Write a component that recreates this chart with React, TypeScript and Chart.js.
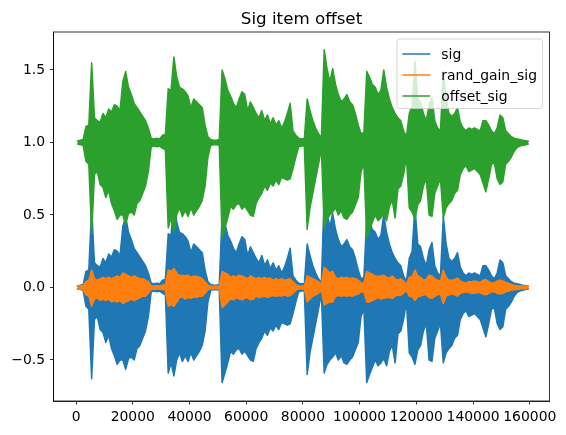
import React, { useEffect, useRef } from "react";
import { Chart, registerables } from "chart.js";

Chart.register(...registerables);

// Envelope of each signal, one max/min pair per block of samples
const binSize = 1000;

const sigHi = [
  0.01,0.015,0.02,0.11,0.12,0.55,0.17,0.15,0.14,0.2,
  0.17,0.23,0.21,0.26,0.25,0.22,0.42,0.49,0.38,0.33,
  0.27,0.24,0.21,0.18,0.15,0.1,0.03,0.025,0.03,0.025,
  0.05,0.055,0.37,0.36,0.59,0.45,0.38,0.37,0.35,0.32,
  0.24,0.3,0.28,0.26,0.24,0.12,0.04,0.02,0.015,0.015,
  0.02,0.5,0.44,0.36,0.32,0.27,0.24,0.3,0.35,0.33,
  0.22,0.28,0.24,0.2,0.17,0.22,0.15,0.19,0.13,0.17,
  0.12,0.15,0.1,0.14,0.2,0.27,0.08,0.05,0.03,0.025,
  0.025,0.3,0.22,0.15,0.1,0.06,0.03,0.64,0.51,0.42,
  0.51,0.4,0.33,0.28,0.3,0.33,0.28,0.26,0.2,0.12,
  0.06,0.07,0.49,0.45,0.4,0.38,0.33,0.36,0.5,0.38,
  0.3,0.24,0.2,0.17,0.15,0.08,0.04,0.2,0.25,0.56,
  0.3,0.28,0.2,0.15,0.26,0.31,0.15,0.1,0.08,0.49,
  0.3,0.2,0.18,0.2,0.24,0.14,0.1,0.08,0.1,0.09,
  0.1,0.09,0.08,0.15,0.15,0.12,0.08,0.06,0.1,0.19,
  0.17,0.08,0.06,0.04,0.03,0.025,0.02,0.015,0.012,0.008,
];
const sigLo = [
  -0.01,-0.015,-0.02,-0.13,-0.15,-0.63,-0.22,-0.2,-0.29,-0.31,
  -0.38,-0.33,-0.42,-0.47,-0.53,-0.5,-0.5,-0.565,-0.49,-0.48,
  -0.5,-0.42,-0.4,-0.35,-0.3,-0.2,-0.03,-0.025,-0.03,-0.025,
  -0.04,-0.05,-0.59,-0.52,-0.61,-0.5,-0.45,-0.51,-0.47,-0.51,
  -0.45,-0.5,-0.47,-0.44,-0.4,-0.3,-0.1,-0.02,-0.015,-0.015,
  -0.02,-0.656,-0.59,-0.52,-0.44,-0.46,-0.43,-0.42,-0.46,-0.44,
  -0.47,-0.5,-0.51,-0.42,-0.38,-0.35,-0.3,-0.33,-0.28,-0.3,
  -0.26,-0.29,-0.24,-0.25,-0.26,-0.25,-0.18,-0.1,-0.03,-0.025,
  -0.025,-0.6,-0.45,-0.35,-0.25,-0.15,-0.04,-0.59,-0.53,-0.5,
  -0.48,-0.45,-0.5,-0.47,-0.52,-0.53,-0.5,-0.48,-0.43,-0.38,
  -0.2,-0.15,-0.656,-0.6,-0.55,-0.5,-0.54,-0.52,-0.49,-0.54,
  -0.44,-0.4,-0.52,-0.32,-0.3,-0.22,-0.1,-0.45,-0.48,-0.53,
  -0.43,-0.4,-0.3,-0.25,-0.5,-0.51,-0.35,-0.3,-0.25,-0.52,
  -0.45,-0.42,-0.4,-0.35,-0.33,-0.22,-0.18,-0.16,-0.2,-0.19,
  -0.18,-0.2,-0.22,-0.28,-0.34,-0.25,-0.15,-0.14,-0.25,-0.29,
  -0.27,-0.15,-0.13,-0.1,-0.06,-0.035,-0.025,-0.02,-0.015,-0.01,
];
const randGainHi = [
  0.01,0.012,0.015,0.04,0.05,0.12,0.06,0.05,0.06,0.07,
  0.06,0.07,0.06,0.07,0.08,0.07,0.1,0.09,0.08,0.07,
  0.08,0.07,0.06,0.06,0.05,0.04,0.012,0.01,0.012,0.01,
  0.015,0.02,0.12,0.11,0.13,0.1,0.08,0.085,0.08,0.085,
  0.07,0.08,0.075,0.07,0.06,0.04,0.015,0.01,0.008,0.008,
  0.01,0.11,0.1,0.09,0.07,0.08,0.07,0.085,0.08,0.07,
  0.06,0.08,0.07,0.06,0.07,0.06,0.07,0.06,0.065,0.05,
  0.06,0.05,0.06,0.05,0.055,0.06,0.04,0.02,0.01,0.01,
  0.01,0.08,0.07,0.06,0.05,0.04,0.02,0.14,0.12,0.1,
  0.11,0.07,0.06,0.07,0.065,0.07,0.06,0.065,0.06,0.05,
  0.03,0.03,0.11,0.1,0.09,0.08,0.075,0.08,0.085,0.07,
  0.065,0.08,0.06,0.05,0.06,0.045,0.02,0.07,0.075,0.12,
  0.08,0.07,0.05,0.055,0.085,0.08,0.06,0.05,0.045,0.12,
  0.07,0.05,0.05,0.055,0.065,0.045,0.035,0.03,0.04,0.04,
  0.045,0.04,0.035,0.05,0.055,0.04,0.03,0.03,0.045,0.05,
  0.045,0.035,0.03,0.02,0.015,0.012,0.01,0.01,0.008,0.006,
];
const randGainLo = [
  -0.01,-0.012,-0.015,-0.05,-0.06,-0.13,-0.08,-0.07,-0.09,-0.08,
  -0.09,-0.08,-0.1,-0.09,-0.1,-0.09,-0.11,-0.1,-0.09,-0.08,
  -0.09,-0.08,-0.07,-0.06,-0.06,-0.04,-0.012,-0.01,-0.012,-0.01,
  -0.015,-0.02,-0.13,-0.12,-0.13,-0.1,-0.07,-0.065,-0.08,-0.07,
  -0.075,-0.065,-0.07,-0.06,-0.06,-0.04,-0.015,-0.01,-0.008,-0.008,
  -0.01,-0.14,-0.12,-0.1,-0.08,-0.085,-0.07,-0.08,-0.085,-0.075,
  -0.07,-0.085,-0.08,-0.06,-0.07,-0.065,-0.06,-0.07,-0.06,-0.055,
  -0.06,-0.055,-0.06,-0.05,-0.06,-0.055,-0.04,-0.02,-0.01,-0.01,
  -0.01,-0.1,-0.08,-0.06,-0.05,-0.04,-0.02,-0.12,-0.11,-0.1,
  -0.1,-0.06,-0.055,-0.06,-0.055,-0.06,-0.055,-0.06,-0.05,-0.045,
  -0.03,-0.03,-0.1,-0.1,-0.09,-0.08,-0.07,-0.08,-0.075,-0.07,
  -0.07,-0.075,-0.06,-0.05,-0.055,-0.04,-0.02,-0.06,-0.065,-0.09,
  -0.065,-0.06,-0.05,-0.05,-0.07,-0.075,-0.06,-0.05,-0.045,-0.11,
  -0.06,-0.05,-0.045,-0.05,-0.06,-0.04,-0.035,-0.03,-0.035,-0.04,
  -0.04,-0.035,-0.035,-0.045,-0.05,-0.04,-0.03,-0.03,-0.04,-0.045,
  -0.04,-0.03,-0.025,-0.02,-0.015,-0.012,-0.01,-0.008,-0.008,-0.006,
];
const offsetHi = [
  1.01,1.015,1.02,1.11,1.12,1.55,1.17,1.15,1.14,1.2,
  1.17,1.23,1.21,1.26,1.25,1.22,1.42,1.49,1.38,1.33,
  1.27,1.24,1.21,1.18,1.15,1.1,1.03,1.025,1.03,1.025,
  1.05,1.055,1.37,1.36,1.59,1.45,1.38,1.37,1.35,1.32,
  1.24,1.3,1.28,1.26,1.24,1.12,1.04,1.02,1.015,1.015,
  1.02,1.5,1.44,1.36,1.32,1.27,1.24,1.3,1.35,1.33,
  1.22,1.28,1.24,1.2,1.17,1.22,1.15,1.19,1.13,1.17,
  1.12,1.15,1.1,1.14,1.2,1.27,1.08,1.05,1.03,1.025,
  1.025,1.3,1.22,1.15,1.1,1.06,1.03,1.64,1.51,1.42,
  1.51,1.4,1.33,1.28,1.3,1.33,1.28,1.26,1.2,1.12,
  1.06,1.07,1.49,1.45,1.4,1.38,1.33,1.36,1.5,1.38,
  1.3,1.24,1.2,1.17,1.15,1.08,1.04,1.2,1.25,1.56,
  1.3,1.28,1.2,1.15,1.26,1.31,1.15,1.1,1.08,1.49,
  1.3,1.2,1.18,1.2,1.24,1.14,1.1,1.08,1.1,1.09,
  1.1,1.09,1.08,1.15,1.15,1.12,1.08,1.06,1.1,1.19,
  1.17,1.08,1.06,1.04,1.03,1.025,1.02,1.015,1.012,1.008,
];
const offsetLo = [
  0.99,0.985,0.98,0.87,0.85,0.37,0.78,0.8,0.71,0.69,
  0.62,0.67,0.58,0.53,0.47,0.5,0.5,0.435,0.51,0.52,
  0.5,0.58,0.6,0.65,0.7,0.8,0.97,0.975,0.97,0.975,
  0.96,0.95,0.41,0.48,0.39,0.5,0.55,0.49,0.53,0.49,
  0.55,0.5,0.53,0.56,0.6,0.7,0.9,0.98,0.985,0.985,
  0.98,0.344,0.41,0.48,0.56,0.54,0.57,0.58,0.54,0.56,
  0.53,0.5,0.49,0.58,0.62,0.65,0.7,0.67,0.72,0.7,
  0.74,0.71,0.76,0.75,0.74,0.75,0.82,0.9,0.97,0.975,
  0.975,0.4,0.55,0.65,0.75,0.85,0.96,0.41,0.47,0.5,
  0.52,0.55,0.5,0.53,0.48,0.47,0.5,0.52,0.57,0.62,
  0.8,0.85,0.344,0.4,0.45,0.5,0.46,0.48,0.51,0.46,
  0.56,0.6,0.48,0.68,0.7,0.78,0.9,0.55,0.52,0.47,
  0.57,0.6,0.7,0.75,0.5,0.49,0.65,0.7,0.75,0.48,
  0.55,0.58,0.6,0.65,0.67,0.78,0.82,0.84,0.8,0.81,
  0.82,0.8,0.78,0.72,0.66,0.75,0.85,0.86,0.75,0.71,
  0.73,0.85,0.87,0.9,0.94,0.965,0.975,0.98,0.985,0.99,
];

const seriesNames = ["sig", "rand_gain_sig", "offset_sig"];
const seriesColors = ["#1f77b4", "#ff7f0e", "#2ca02c"];
const xTickValues = [0, 20000, 40000, 60000, 80000, 100000, 120000, 140000, 160000];
const yTickValues = [-0.5, 0, 0.5, 1.0, 1.5];
const yTickLabels = ["\u22120.5", "0.0", "0.5", "1.0", "1.5"];
const titleText = "Sig item offset";

function envelope(values: number[]) {
  return values.map((v, i) => ({ x: i * binSize + binSize / 2, y: v }));
}

const FONT = "'DejaVu Sans', sans-serif";

const framePlugin = {
  id: "mplFrame",
  afterDraw(chart: any) {
    const { ctx, chartArea } = chart;
    const { left, right, top, bottom } = chartArea;
    ctx.save();
    ctx.strokeStyle = "#000";
    ctx.lineWidth = 0.8;
    ctx.strokeRect(left, top, right - left, bottom - top);
    // title
    ctx.fillStyle = "#000";
    ctx.font = `16.7px ${FONT}`;
    ctx.textAlign = "center";
    ctx.textBaseline = "alphabetic";
    ctx.fillText(titleText, (left + right) / 2, top - 8.5);
    // legend
    const fs = 13.9;
    ctx.font = `${fs}px ${FONT}`;
    let maxW = 0;
    for (const n of seriesNames) maxW = Math.max(maxW, ctx.measureText(n).width);
    const pad = 5.5;
    const handleLen = 27.8;
    const handleGap = 11.1;
    const rowH = 21;
    const boxW = pad + handleLen + handleGap + maxW + pad;
    const boxH = pad + rowH * seriesNames.length + 1;
    const bx = right - 7 - boxW;
    const by = top + 7;
    const r = 3;
    ctx.beginPath();
    ctx.moveTo(bx + r, by);
    ctx.lineTo(bx + boxW - r, by);
    ctx.arcTo(bx + boxW, by, bx + boxW, by + r, r);
    ctx.lineTo(bx + boxW, by + boxH - r);
    ctx.arcTo(bx + boxW, by + boxH, bx + boxW - r, by + boxH, r);
    ctx.lineTo(bx + r, by + boxH);
    ctx.arcTo(bx, by + boxH, bx, by + boxH - r, r);
    ctx.lineTo(bx, by + r);
    ctx.arcTo(bx, by, bx + r, by, r);
    ctx.closePath();
    ctx.fillStyle = "rgba(255,255,255,0.8)";
    ctx.fill();
    ctx.strokeStyle = "rgba(204,204,204,0.8)";
    ctx.lineWidth = 1;
    ctx.stroke();
    ctx.textAlign = "left";
    ctx.textBaseline = "middle";
    seriesNames.forEach((n, i) => {
      const cy = by + pad + rowH * i + rowH / 2 - 1;
      ctx.strokeStyle = seriesColors[i];
      ctx.lineWidth = 1.5;
      ctx.beginPath();
      ctx.moveTo(bx + pad, cy);
      ctx.lineTo(bx + pad + handleLen, cy);
      ctx.stroke();
      ctx.fillStyle = "#000";
      ctx.fillText(n, bx + pad + handleLen + handleGap, cy + 1);
    });
    ctx.restore();
  },
};

function bandDatasets(name: string, color: string, hi: number[], lo: number[], order: number) {
  const common = {
    borderColor: color,
    backgroundColor: color,
    borderWidth: 1.5,
    pointRadius: 0,
    borderJoinStyle: "round",
    borderCapStyle: "round",
    order,
  };
  return [
    { ...common, label: name, data: envelope(hi), fill: false },
    { ...common, label: name + " (min)", data: envelope(lo), fill: "-1" },
  ];
}

export default function App() {
  const ref = useRef<HTMLCanvasElement | null>(null);
  useEffect(() => {
    if (!ref.current) return;
    const tickFont = { family: FONT, size: 13.9 };
    const chart = new Chart(ref.current, {
      type: "line",
      data: {
        datasets: [
          ...bandDatasets(seriesNames[0], seriesColors[0], sigHi, sigLo, 3),
          ...bandDatasets(seriesNames[1], seriesColors[1], randGainHi, randGainLo, 2),
          ...bandDatasets(seriesNames[2], seriesColors[2], offsetHi, offsetLo, 1),
        ],
      },
      options: {
        responsive: false,
        animation: false,
        devicePixelRatio: 1,
        layout: { padding: { top: 32, right: 16.5, left: 0, bottom: 0 } },
        plugins: {
          legend: { display: false },
          title: { display: false },
          tooltip: { enabled: false },
          filler: { propagate: false },
        },
        scales: {
          x: {
            type: "linear",
            min: -7950,
            max: 166950,
            afterFit: (s: any) => {
              s.height = 34;
            },
            afterBuildTicks: (s: any) => {
              s.ticks = xTickValues.map((v) => ({ value: v }));
            },
            ticks: {
              color: "#000",
              font: tickFont,
              padding: 5,
              maxRotation: 0,
              autoSkip: false,
              callback: (v: any) => String(v),
            },
            grid: {
              drawOnChartArea: false,
              drawTicks: true,
              tickLength: 3.5,
              tickWidth: 0.8,
              tickColor: "#000",
            },
            border: { display: true, color: "#000", width: 0.8 },
          },
          y: {
            type: "linear",
            min: -0.783,
            max: 1.762,
            afterFit: (s: any) => {
              s.width = 53.5;
            },
            afterBuildTicks: (s: any) => {
              s.ticks = yTickValues.map((v) => ({ value: v }));
            },
            ticks: {
              color: "#000",
              font: tickFont,
              padding: 4.9,
              autoSkip: false,
              callback: (v: any) => {
                const i = yTickValues.indexOf(Number(v));
                return i >= 0 ? yTickLabels[i] : "";
              },
            },
            grid: {
              drawOnChartArea: false,
              drawTicks: true,
              tickLength: 3.5,
              tickWidth: 0.8,
              tickColor: "#000",
            },
            border: { display: true, color: "#000", width: 0.8 },
          },
        },
      },
      plugins: [framePlugin],
    } as any);
    return () => chart.destroy();
  }, []);
  return (
    <canvas
      ref={ref}
      width={566}
      height={435}
      style={{ position: "fixed", left: 0, top: 0, width: 566, height: 435, display: "block", background: "#fff" }}
    />
  );
}
